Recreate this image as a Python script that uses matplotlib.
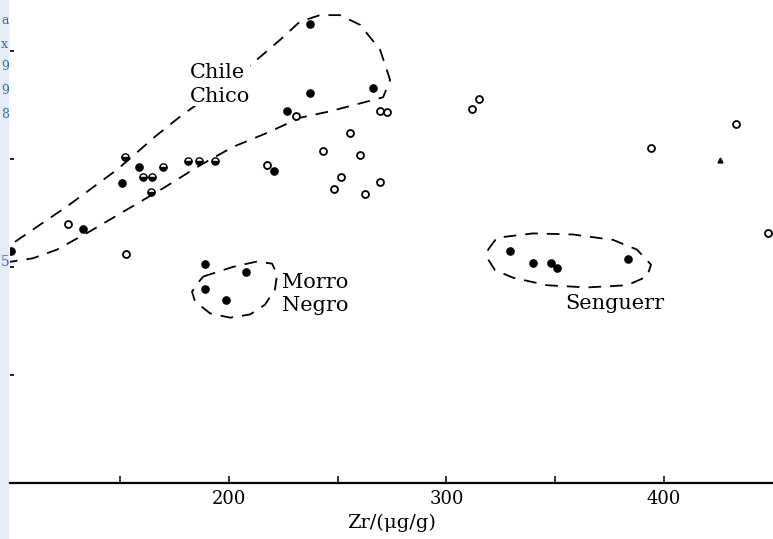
import numpy as np
import matplotlib.pyplot as plt
from matplotlib.patches import Rectangle

# points pleins (Zr, y)
plein_x = [100.0, 133.0, 151.0, 158.8, 220.8, 226.8, 237.3, 237.3, 266.3,
           189.1, 207.9, 189.1, 198.7,
           329.2, 339.8, 348.0, 350.8, 383.4]
plein_y = [21.5, 23.5, 27.8, 29.2, 28.9, 34.4, 42.5, 36.1, 36.6,
           20.3, 19.5, 18.0, 16.9,
           21.5, 20.4, 20.4, 19.9, 20.7]

# points demi-pleins
demi_x = [152.3, 160.6, 164.7, 169.8, 164.3, 181.3, 186.3, 193.7]
demi_y = [30.2, 28.3, 28.3, 29.2, 26.9, 29.8, 29.8, 29.8]

# points vides
vide_x = [126.1, 152.8, 217.6, 230.9, 243.3, 255.7, 260.3, 251.6, 248.3,
          262.6, 269.5, 269.5, 272.7, 311.7, 315.0, 394.0, 433.0, 447.7]
vide_y = [24.0, 21.2, 29.4, 34.0, 30.7, 32.4, 30.4, 28.3, 27.2,
          26.7, 27.9, 34.4, 34.3, 34.6, 35.5, 31.0, 33.2, 23.1]

tri_x = [425.7]
tri_y = [29.9]

# contours en tirets
chile_x = [97.2, 110.1, 121.1, 136.3, 153.2, 168.4, 186.8, 201.9, 217.6, 232.7,
           246.5, 263.5, 270.9, 274.1, 269.5, 260.3, 251.1, 241.9, 232.7, 223.5,
           208.4, 177.6, 167.0, 148.7, 125.7, 100.9, 96.3, 97.2]
chile_y = [20.4, 20.8, 21.6, 23.3, 25.3, 27.1, 29.4, 31.1, 32.4, 33.8,
           34.4, 35.3, 35.7, 37.3, 40.1, 42.4, 43.3, 43.3, 42.7, 41.0,
           38.4, 33.9, 32.2, 29.0, 25.6, 22.2, 21.4, 20.4]

morro_x = [188.2, 201.9, 213.0, 219.9, 222.2, 221.2, 216.6, 209.8, 200.6,
           191.4, 184.5, 183.1, 185.4, 188.2]
morro_y = [19.1, 20.0, 20.5, 20.3, 19.3, 17.9, 16.5, 15.6, 15.3,
           15.7, 16.8, 17.7, 18.4, 19.1]

seng_x = [319.1, 323.2, 339.8, 358.1, 376.5, 387.5, 394.0, 392.1, 382.9,
          364.6, 346.2, 330.6, 322.3, 319.1, 319.1]
seng_y = [21.6, 22.7, 23.1, 23.0, 22.5, 21.6, 20.2, 19.1, 18.3,
          18.1, 18.3, 19.0, 19.7, 20.7, 21.6]

xticks = [150, 200, 250, 300, 350, 400]
xlabels = ['', '200', '', '300', '', '400']
yticks = [10, 20, 30, 40]

W, H = 773, 539
fig = plt.figure(figsize=(W / 100, H / 100), dpi=100)
ax = fig.add_axes([10 / W, 56 / H, 1 - 10 / W, 1 - 56 / H])

dash = (0, (7, 5))
ax.plot(chile_x, chile_y, color='black', lw=1.3, linestyle=dash)
ax.plot(morro_x, morro_y, color='black', lw=1.3, linestyle=dash)
ax.plot(seng_x, seng_y, color='black', lw=1.3, linestyle=dash)

ax.plot(plein_x, plein_y, 'o', color='black', ms=5.2, mec='black')
ax.plot(demi_x, demi_y, 'o', color='black', ms=5.2, mec='black',
        mfc='black', fillstyle='bottom', mfcalt='white', mew=1.0)
ax.plot(vide_x, vide_y, 'o', ms=5.0, mfc='white', mec='black', mew=1.3)
ax.plot(tri_x, tri_y, '^', ms=3.5, color='black')

serif = 'DejaVu Serif'
ax.text(182, 36.9, 'Chile\nChico', fontsize=15, family=serif,
        va='center', ha='left', linespacing=1.3,
        bbox=dict(facecolor='white', edgecolor='none', pad=0.5))
ax.text(224.5, 17.5, 'Morro\nNegro', fontsize=15, family=serif,
        va='center', ha='left', linespacing=1.3)
ax.text(354.5, 16.6, 'Senguerr', fontsize=15, family=serif,
        va='center', ha='left')

ax.set_xlim(99.5, 450)
ax.set_ylim(0, 44.7)
ax.set_xticks(xticks)
ax.set_xticklabels(xlabels, family=serif, fontsize=13)
ax.set_yticks(yticks)
ax.set_yticklabels([])
ax.tick_params(axis='x', direction='in', length=5, width=1.1, pad=5)
ax.tick_params(axis='y', direction='in', length=3, width=1.2)
ax.set_xlabel('Zr/(μg/g)', family=serif, fontsize=14, labelpad=4)

for s in ['top', 'right', 'left']:
    ax.spines[s].set_visible(False)
ax.spines['bottom'].set_linewidth(1.6)

# bande bleue de la page à gauche
fig.patches.append(Rectangle((0, 0), 9 / W, 1, transform=fig.transFigure,
                             facecolor='#e6ecf6', edgecolor='none', zorder=-1))
bleu = '#2f6fba'
fig.text(1 / W, 1 - 262 / H, '5', color=bleu, fontsize=10,
         family=serif, va='center', ha='left')
for yy, ch in zip([20, 44, 66, 90, 114], ['a', 'x', '9', '9', '8']):
    fig.text(1 / W, 1 - yy / H, ch, color=bleu, fontsize=9,
             family=serif, va='center', ha='left')

fig.savefig('out.png', dpi=100)
